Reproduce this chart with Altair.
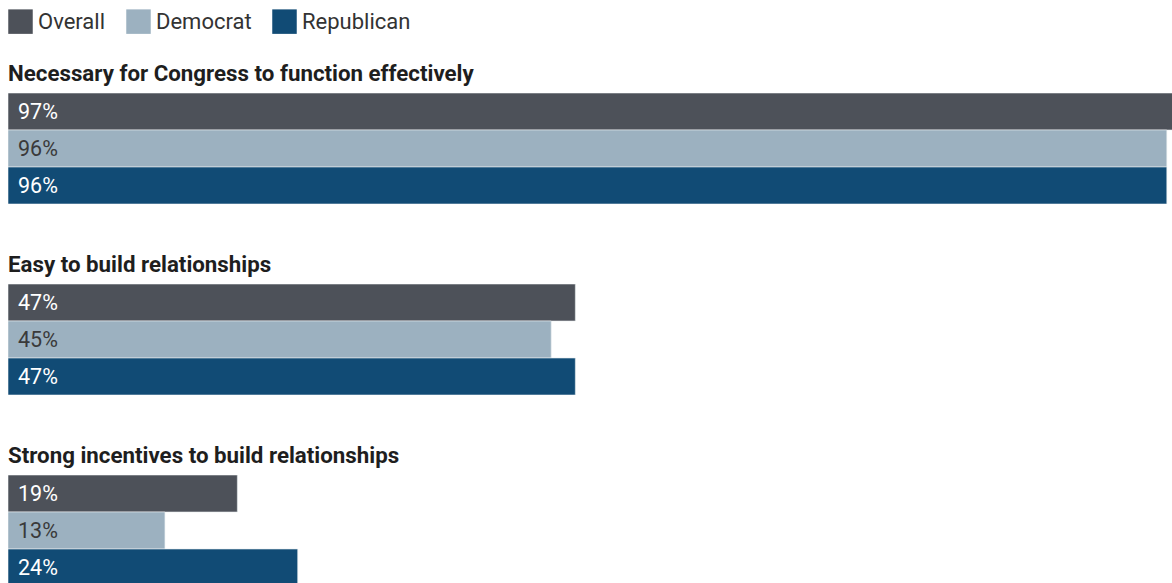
import altair as alt
import pandas as pd

questions = [
    "Necessary for Congress to function effectively",
    "Easy to build relationships",
    "Strong incentives to build relationships",
]
groups = ["Overall", "Democrat", "Republican"]
overall = [97, 47, 19]
democrat = [96, 45, 13]
republican = [96, 47, 24]
colors = ["#4d5159", "#9cb1c0", "#114b75"]

rows = []
for i, q in enumerate(questions):
    for g, vals in zip(groups, [overall, democrat, republican]):
        rows.append({"question": q, "group": g, "value": vals[i], "label": f"{vals[i]}%"})
df = pd.DataFrame(rows)

FONT = "Roboto"

y_enc = alt.Y("group:N", sort=groups, axis=None,
              scale=alt.Scale(paddingInner=0, paddingOuter=0))

bars = alt.Chart().mark_bar(clip=True, stroke="#e8ecef", strokeWidth=0.6).encode(
    x=alt.X("value:Q", axis=None, scale=alt.Scale(domain=[0, 96.43], nice=False, zero=True)),
    y=y_enc,
    color=alt.Color("group:N", sort=groups,
                    scale=alt.Scale(domain=groups, range=colors),
                    legend=alt.Legend(title=None, orient="top", direction="horizontal",
                                      symbolType="square", symbolSize=600,
                                      symbolStrokeWidth=0, symbolOpacity=1,
                                      labelFontSize=22, labelFont=FONT,
                                      labelColor="#333333", labelOffset=5,
                                      columnPadding=20, offset=28)),
)

text = alt.Chart().mark_text(align="left", baseline="middle", dx=10, dy=1, fontSize=21.5,
                              font=FONT).encode(
    x=alt.value(0),
    y=y_enc,
    text="label:N",
    color=alt.condition(alt.datum.group == "Democrat", alt.value("#3a3a3a"), alt.value("#ffffff")),
)

chart = alt.layer(bars, text, data=df).properties(width=1164, height=111).facet(
    row=alt.Row("question:N", sort=questions, title=None,
                header=alt.Header(labelOrient="top", labelAnchor="start", labelAngle=0,
                                  labelFontSize=22.3, labelFontWeight="bold", labelFont=FONT,
                                  labelColor="#1e1e1e", labelPadding=-15, labelAlign="left"))
).properties(
    padding={"left": 8, "top": 9, "right": 0, "bottom": 0}
).configure_facet(spacing=49).configure_view(stroke=None)

chart.save("out.html", embed_options={"renderer": "svg", "actions": False})
